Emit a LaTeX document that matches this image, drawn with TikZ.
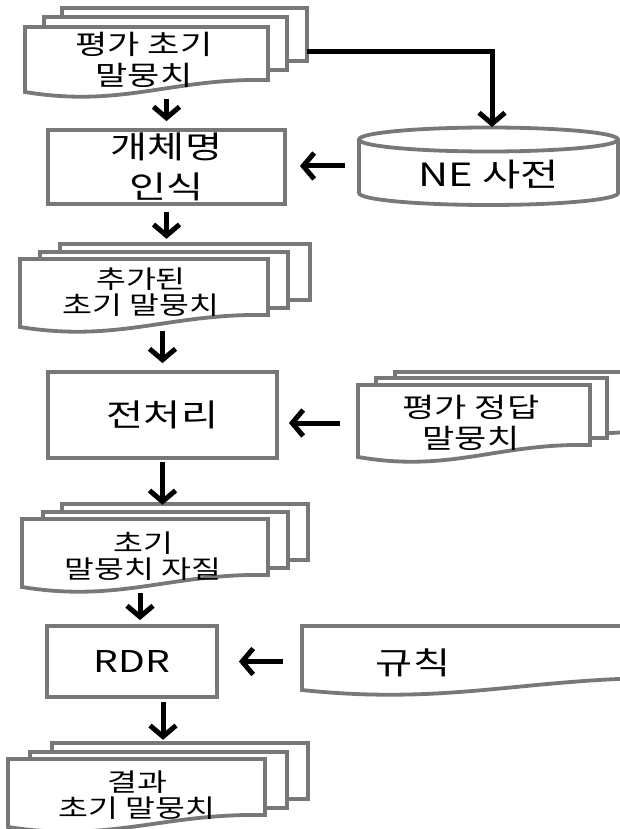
\documentclass[tikz,border=0pt]{standalone}
\usepackage{fontspec}
\newfontfamily\kr{Noto Sans CJK KR}[FakeStretch=1.3]
\usetikzlibrary{arrows.meta}

\definecolor{edgegray}{HTML}{787878}

% document page with a wavy lower edge: x0, top, width, height at the left side
\newcommand{\docpage}[4]{%
  \path[pagebox] (#1,#2) -- ({#1+#3},#2) -- ({#1+#3},{#2+#4-12})
    .. controls ({#1+0.6*#3},{#2+#4-14}) and ({#1+0.4*#3},{#2+#4+16}) ..
    (#1,{#2+#4}) -- cycle;}

\tikzset{
  pagebox/.style={draw=edgegray, line width=3.8pt, fill=white, line join=miter},
  procbox/.style={draw=edgegray, line width=3.8pt, fill=white, inner sep=0pt},
  docarea/.style={inner sep=0pt, align=center},
  flow/.style={draw=black, line width=5pt,
    -{Straight Barb[length=11pt, width=26pt, line width=5pt]}},
  smalltxt/.style={font=\kr\fontsize{25}{26}\selectfont},
  midtxt/.style={font=\kr\fontsize{27}{31}\selectfont},
  bigtxt/.style={font=\kr\fontsize{31}{40}\selectfont}
}

\begin{document}
\begin{tikzpicture}[x=1pt, y=-1pt]
\useasboundingbox (0,0) rectangle (620,829);
\clip (0,0) rectangle (620,829);

% ---- evaluation corpus (three stacked pages)
\docpage{62}{8}{245}{65}
\docpage{44}{17}{243}{65}
\docpage{25}{27}{243}{65}
\node[docarea, midtxt, minimum width=243pt, minimum height=65pt] (d1) at (144,60)
  {평가 초기\\말뭉치};
\coordinate (d1back) at (307,52);

% ---- NE dictionary (cylinder)
\draw[pagebox] (488.5,193) ellipse [x radius=129.5pt, y radius=12pt];
\fill[white] (359,139.5) rectangle (618,193);
\draw[draw=edgegray, line width=3.8pt] (359,139.5) -- (359,193) (618,139.5) -- (618,193);
\draw[pagebox] (488.5,139.5) ellipse [x radius=129.5pt, y radius=12pt];
\node[font=\kr\fontsize{32}{34}\selectfont] (ne) at (488.5,175) {NE 사전};
\coordinate (cyltop) at (492,127);
\coordinate (cylleft) at (359,166);

% ---- named entity recognition
\node[procbox, bigtxt, align=center, minimum width=237pt, minimum height=74pt] (box1)
  at (166.5,167) {개체명\\인식};

% ---- augmented corpus
\docpage{60}{244}{250}{68}
\docpage{40}{252}{248}{68}
\docpage{20}{259}{248}{68}
\node[docarea, smalltxt, minimum width=248pt, minimum height=68pt] (d2) at (141,292)
  {추가된\\초기 말뭉치};

% ---- preprocessing
\node[procbox, bigtxt, minimum width=229pt, minimum height=86pt] (box2)
  at (162.5,415) {전처리};

% ---- gold corpus
\docpage{395}{372}{260}{72}
\docpage{376}{378}{231}{72}
\docpage{358}{385}{232}{72}
\node[docarea, midtxt, minimum width=232pt, minimum height=72pt] (d5) at (471,423)
  {평가 정답\\말뭉치};

% ---- corpus features
\docpage{62}{504}{246}{68}
\docpage{43}{512}{245}{68}
\docpage{22}{519}{246}{68}
\node[docarea, smalltxt, minimum width=246pt, minimum height=68pt] (d3) at (143,556)
  {초기\\말뭉치 자질};

% ---- RDR
\node[procbox, font=\kr\fontsize{30}{32}\selectfont, minimum width=170pt, minimum height=71pt] (rdr)
  at (132,661.5) {RDR};

% ---- rules
\docpage{302}{626}{380}{64}
\node[minimum width=380pt, minimum height=64pt, inner sep=0pt] (rule) at (492,658) {};
\node[font=\kr\fontsize{31}{32}\selectfont] (ruletxt) at (413,663) {규칙};

% ---- resulting corpus
\docpage{52}{743}{256}{68}
\docpage{30}{752}{257}{68}
\docpage{8}{759}{257}{68}
\node[docarea, smalltxt, minimum width=257pt, minimum height=68pt] (d4) at (137,795)
  {결과\\초기 말뭉치};

% ---- connectors
\draw[flow] (d1back) -| (cyltop);
\draw[flow, shorten <=6pt, shorten >=7pt] (box1.north |- d1.south) -- (box1.north);
\draw[flow, shorten <=14pt, shorten >=13pt] (cylleft) -- (box1.east |- cylleft);
\draw[flow, shorten <=6pt, shorten >=19pt] (box1.south) -- (box1.south |- d2.north);
\draw[flow, shorten <=5pt, shorten >=7pt] (box2.north |- d2.south) -- (box2.north);
\draw[flow, shorten <=15pt, shorten >=10pt] (d5.west) -- (box2.east |- d5.west);
\draw[flow, shorten <=2pt, shorten >=17pt] (box2.south) -- (box2.south |- d3.north);
\draw[flow, shorten <=3pt, shorten >=4pt] ([xshift=8pt]rdr.north |- d3.south) -- ([xshift=8pt]rdr.north);
\draw[flow, shorten <=19pt, shorten >=20pt] (rule.west |- rdr.east) -- (rdr.east);
\draw[flow, shorten <=3pt, shorten >=21pt] ([xshift=31pt]rdr.south) -- ([xshift=31pt]rdr.south |- d4.north);
\end{tikzpicture}
\end{document}
